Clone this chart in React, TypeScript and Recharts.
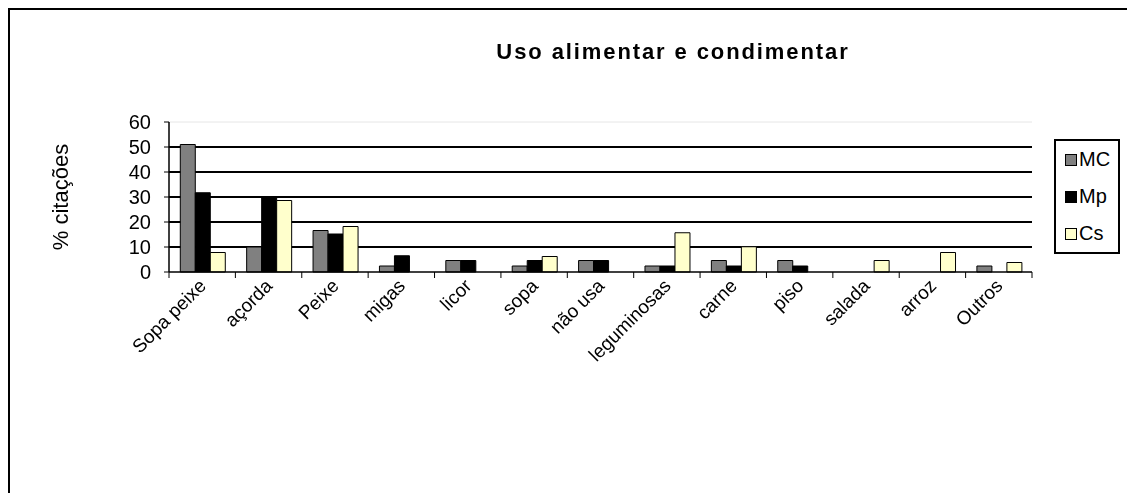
import React from "react";
import {
  Bar,
  BarChart,
  CartesianGrid,
  ReferenceLine,
  XAxis,
  YAxis,
} from "recharts";

const categories = [
  "Sopa peixe",
  "açorda",
  "Peixe",
  "migas",
  "licor",
  "sopa",
  "não usa",
  "leguminosas",
  "carne",
  "piso",
  "salada",
  "arroz",
  "Outros",
];
const mcValues = [51, 10, 16.6, 2.4, 4.6, 2.4, 4.6, 2.4, 4.6, 4.6, 0, 0, 2.4];
const mpValues = [31.7, 29.6, 15.2, 6.5, 4.6, 4.6, 4.6, 2.4, 2.4, 2.4, 0, 0, 0];
const csValues = [7.8, 28.6, 18.2, 0, 0, 6.2, 0, 15.7, 10.1, 0, 4.6, 7.8, 3.8];
const yTicks = [0, 10, 20, 30, 40, 50, 60];

const series = [
  { key: "MC", color: "#808080" },
  { key: "Mp", color: "#000000" },
  { key: "Cs", color: "#FFFFCC" },
];

const data = categories.map((name, i) => ({
  name,
  MC: mcValues[i],
  Mp: mpValues[i],
  Cs: csValues[i],
}));

const FONT = "'Liberation Sans', Arial, sans-serif";
const W = 1117;
const H = 483;
const margin = { top: 112, right: 95, bottom: 121, left: 99 };
const Y_WIDTH = 60;
const band = (W - margin.left - margin.right - Y_WIDTH) / categories.length;

function CategoryTick(props: any) {
  const { x, y, payload, index } = props;
  const tx = x + 5;
  const ty = y + 15;
  return (
    <g>
      <line x1={x - band / 2} x2={x - band / 2} y1={y} y2={y + 6} stroke="#000" />
      {index === categories.length - 1 && (
        <line x1={x + band / 2} x2={x + band / 2} y1={y} y2={y + 6} stroke="#000" />
      )}
      <text
        x={tx}
        y={ty}
        transform={`rotate(-45, ${tx}, ${ty})`}
        textAnchor="end"
        fontSize={19}
        fontFamily={FONT}
        fill="#000"
      >
        {payload.value}
      </text>
    </g>
  );
}

function YTitle(props: any) {
  const { viewBox } = props;
  const cx = 50;
  const cy = viewBox.y + viewBox.height / 2;
  return (
    <text
      x={cx}
      y={cy}
      transform={`rotate(-90, ${cx}, ${cy})`}
      textAnchor="middle"
      dominantBaseline="central"
      fontSize={22}
      fontFamily={FONT}
      fill="#000"
    >
      % citações
    </text>
  );
}

export default function App() {
  return (
    <div
      style={{
        position: "fixed",
        left: 8,
        top: 8,
        width: 1125,
        height: 485,
        borderLeft: "2px solid #000",
        borderTop: "2px solid #000",
        boxSizing: "border-box",
        background: "#fff",
        fontFamily: FONT,
      }}
    >
      <div
        style={{
          position: "absolute",
          left: 0,
          width: 1326,
          top: 29,
          textAlign: "center",
          fontSize: 22,
          letterSpacing: 1.9,
          fontWeight: "bold",
        }}
      >
        Uso alimentar e condimentar
      </div>
      <BarChart
        width={W}
        height={H}
        data={data}
        margin={margin}
        barCategoryGap="17%"
        barGap={0}
      >
        <CartesianGrid
          vertical={false}
          horizontalValues={[10, 20, 30, 40, 50]}
          stroke="#000"
          strokeWidth={1.8}
        />
        <ReferenceLine y={60} stroke="#e6e6e6" />
        <XAxis
          dataKey="name"
          height={100}
          interval={0}
          tickLine={false}
          tickSize={0}
          tickMargin={0}
          axisLine={{ stroke: "#000", strokeWidth: 1.5 }}
          tick={<CategoryTick />}
        />
        <YAxis
          width={Y_WIDTH}
          domain={[0, 60]}
          ticks={yTicks}
          interval={0}
          tickSize={5}
          tickMargin={13}
          axisLine={{ stroke: "#000", strokeWidth: 1.5 }}
          tickLine={{ stroke: "#000" }}
          tick={{ fontSize: 20, fill: "#000", fontFamily: FONT }}
          label={<YTitle />}
        />
        {series.map((s) => (
          <Bar
            key={s.key}
            dataKey={s.key}
            fill={s.color}
            stroke="#000"
            strokeWidth={1}
            isAnimationActive={false}
          />
        ))}
      </BarChart>
      <div
        style={{
          position: "absolute",
          left: 1044,
          top: 129,
          width: 66,
          height: 115,
          border: "2px solid #000",
          boxSizing: "border-box",
          background: "#fff",
          display: "flex",
          flexDirection: "column",
          justifyContent: "space-around",
          paddingLeft: 9,
          fontSize: 20,
        }}
      >
        {series.map((s) => (
          <div key={s.key} style={{ display: "flex", alignItems: "center" }}>
            <span
              style={{
                display: "inline-block",
                width: 10,
                height: 10,
                background: s.color,
                border: "1px solid #000",
                marginRight: 2,
              }}
            />
            {s.key}
          </div>
        ))}
      </div>
    </div>
  );
}
